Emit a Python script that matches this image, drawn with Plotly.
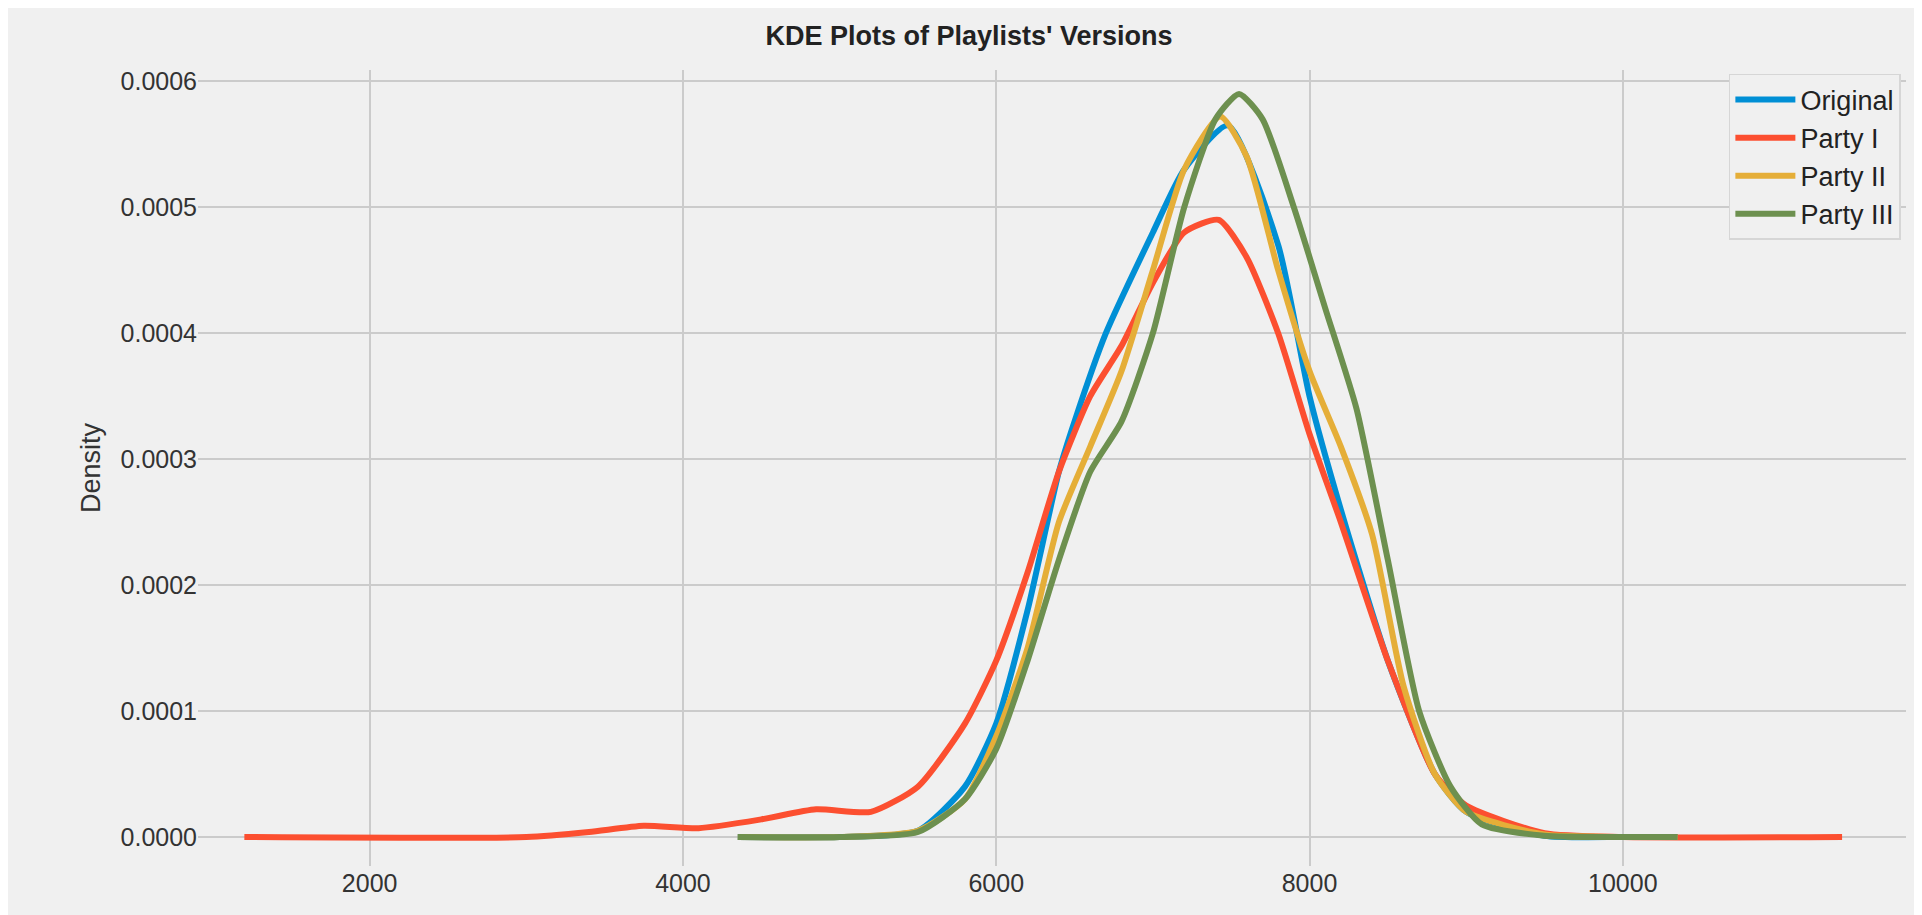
import plotly.graph_objects as go

orig_x = [4350, 5000, 5500, 5800, 6000, 6200, 6400, 6500, 6700, 7000, 7200, 7480, 7800, 8000, 8200, 8500, 8800, 9000, 9500, 10000, 10350]
orig_y = [0, 0, 0.000005, 0.00004, 0.00009, 0.00018, 0.00029, 0.00033, 0.00040, 0.00048, 0.00053, 0.000565, 0.00047, 0.00035, 0.00026, 0.00014, 0.00005, 0.00002, 0.000001, 0, 0]

p1_x = [1200, 3000, 3400, 3750, 4100, 4500, 4850, 5200, 5500, 5800, 6000, 6200, 6400, 6600, 6800, 7000, 7200, 7420, 7600, 7800, 8000, 8200, 8500, 8800, 9000, 9500, 10000, 11400]
p1_y = [0, 0, 0.000004, 0.000009, 0.000007, 0.000014, 0.000022, 0.00002, 0.00004, 0.00009, 0.00014, 0.00021, 0.00029, 0.00035, 0.00039, 0.00044, 0.00048, 0.00049, 0.00046, 0.0004, 0.00032, 0.00025, 0.00014, 0.00005, 0.000025, 0.000003, 0, 0]

p2_x = [4350, 5000, 5500, 5800, 6000, 6200, 6400, 6600, 6800, 7000, 7200, 7430, 7600, 7800, 8000, 8200, 8400, 8600, 8800, 9000, 9500, 10000, 10350]
p2_y = [0, 0, 0.000005, 0.00003, 0.00008, 0.00015, 0.00025, 0.00031, 0.00037, 0.00045, 0.00053, 0.000572, 0.00054, 0.00045, 0.00037, 0.00031, 0.00024, 0.00012, 0.00005, 0.00002, 0.000002, 0, 0]

p3_x = [4350, 5000, 5500, 5800, 6000, 6200, 6400, 6600, 6800, 7000, 7200, 7400, 7550, 7700, 7900, 8100, 8300, 8500, 8700, 8900, 9100, 9500, 10000, 10350]
p3_y = [0, 0, 0.000004, 0.00003, 0.00007, 0.00014, 0.00022, 0.00029, 0.00033, 0.0004, 0.0005, 0.00057, 0.00059, 0.00057, 0.0005, 0.00042, 0.00034, 0.00022, 0.0001, 0.00004, 0.00001, 0.000001, 0, 0]

names = ["Original", "Party I", "Party II", "Party III"]
colors = ["#008fd5", "#fc4f30", "#e5ae38", "#6d904f"]
series = [(orig_x, orig_y), (p1_x, p1_y), (p2_x, p2_y), (p3_x, p3_y)]

x_ticks = [2000, 4000, 6000, 8000, 10000]
x_tick_labels = ["2000", "4000", "6000", "8000", "10000"]

fig = go.Figure()
for (xs, ys), n, c in zip(series, names, colors):
    fig.add_trace(go.Scatter(x=xs, y=ys, name=n, mode="lines",
                             line=dict(color=c, width=6, shape="spline", smoothing=0.6)))

fig.update_layout(
    width=1922, height=915,
    paper_bgcolor="#f0f0f0", plot_bgcolor="#f0f0f0",
    margin=dict(l=190, r=24, t=62, b=57),
    font=dict(family="Liberation Sans, Arial", size=25, color="#333333"),
    title=dict(text="<b>KDE Plots of Playlists' Versions</b>", x=0.5, xanchor="center",
               y=0.97, yanchor="middle", font=dict(size=27, color="#222222")),
    xaxis=dict(range=[904, 11808], tickvals=x_ticks, ticktext=x_tick_labels,
               showgrid=True, gridcolor="#cbcbcb", gridwidth=1.5, zeroline=False, showline=False,
               ticks="", tickfont=dict(size=25)),
    yaxis=dict(range=[-0.000023, 0.000609], tickvals=[0, 0.0001, 0.0002, 0.0003, 0.0004, 0.0005, 0.0006],
               tickformat=".4f", showgrid=True, gridcolor="#cbcbcb", gridwidth=1.5, zeroline=False,
               showline=False, ticks="", tickfont=dict(size=25),
               title=dict(text="Density", font=dict(size=27), standoff=12)),
    legend=dict(x=0.997, y=0.995, xanchor="right", yanchor="top",
                bgcolor="#f0f0f0", bordercolor="#d6d6d6", borderwidth=1.5,
                font=dict(size=27, color="#222222"), itemwidth=60),
)
fig.write_html("out.html")
